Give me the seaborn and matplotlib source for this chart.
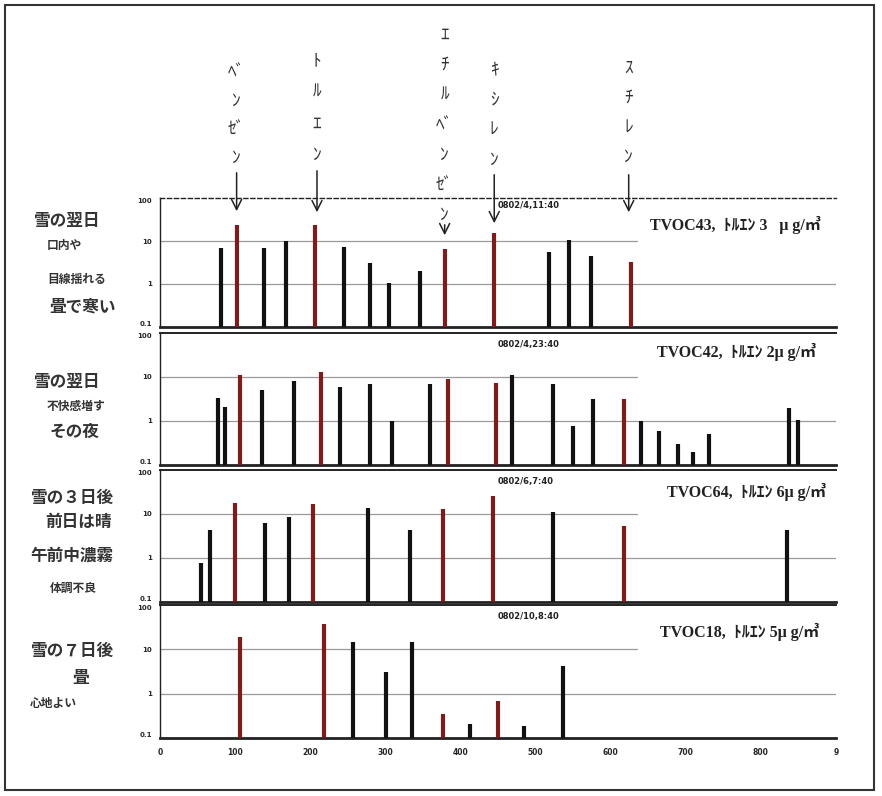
import numpy as np
import pandas as pd
import matplotlib
matplotlib.use("Agg")
import matplotlib.pyplot as plt
import matplotlib.transforms as mtransforms
from matplotlib.patches import Rectangle
import seaborn as sns

# ---------------- data ----------------
rt_black_1 = [81, 139, 168, 245, 279, 305, 346, 518, 545, 574]
conc_black_1 = [7, 7, 10, 7.4, 3.1, 1.07, 2.0, 5.5, 10.4, 4.5]
rt_red_1 = [103, 207, 380, 445, 627]
conc_red_1 = [23, 23, 6.4, 15, 3.3]

rt_black_2 = [77, 87, 136, 179, 240, 279, 309, 359, 469, 523, 550, 576, 640, 665, 689, 710, 731, 838, 849]
conc_black_2 = [3.4, 2.1, 5.0, 8.1, 5.9, 7, 1.0, 7, 11, 6.8, 0.77, 3.1, 1.0, 0.59, 0.30, 0.20, 0.50, 2.0, 1.04]
rt_red_2 = [107, 214, 383, 447, 618]
conc_red_2 = [11, 13, 8.9, 7.4, 3.1]

rt_black_3 = [55, 67, 140, 172, 277, 333, 523, 835]
conc_black_3 = [0.78, 4.3, 6.1, 8.7, 14, 4.3, 11, 4.3]
rt_red_3 = [100, 204, 377, 443, 618]
conc_red_3 = [18, 17, 13, 26, 5.4]

rt_black_4 = [257, 301, 335, 413, 484, 537]
conc_black_4 = [14.5, 3.1, 14.5, 0.21, 0.19, 4.2]
rt_red_4 = [107, 219, 377, 450]
conc_red_4 = [19, 38, 0.35, 0.67]

stamps = ["0802/4,11:40", "0802/4,23:40", "0802/6,7:40", "0802/10,8:40"]
tvoc_labels = ["TVOC43,  ﾄﾙｴﾝ 3   μ g/㎥", "TVOC42,  ﾄﾙｴﾝ 2μ g/㎥",
               "TVOC64,  ﾄﾙｴﾝ 6μ g/㎥", "TVOC18,  ﾄﾙｴﾝ 5μ g/㎥"]
side_labels = [
    [("雪の翌日", "big"), ("口内や", "small"), ("目線揺れる", "small"), ("畳で寒い", "big")],
    [("雪の翌日", "big"), ("不快感増す", "small"), ("その夜", "big")],
    [("雪の３日後", "big"), ("前日は晴", "big"), ("午前中濃霧", "big"), ("体調不良", "small")],
    [("雪の７日後", "big"), ("畳", "big"), ("心地よい", "small")],
]
compound_x = [102, 209, 379, 445, 624]
compound_chars = [["ﾍﾞ", "ﾝ", "ｾﾞ", "ﾝ"],
                  ["ﾄ", "ﾙ", "ｴ", "ﾝ"],
                  ["ｴ", "ﾁ", "ﾙ", "ﾍﾞ", "ﾝ", "ｾﾞ", "ﾝ"],
                  ["ｷ", "ｼ", "ﾚ", "ﾝ"],
                  ["ｽ", "ﾁ", "ﾚ", "ﾝ"]]
y_ticks = [0.1, 1, 10, 100]
y_ticklabels = ["0.1", "1", "10", "100"]
x_ticks = [0, 100, 200, 300, 400, 500, 600, 700, 800, 900]
x_ticklabels = ["0", "100", "200", "300", "400", "500", "600", "700", "800", "9"]

panels = [
    (rt_black_1, conc_black_1, rt_red_1, conc_red_1),
    (rt_black_2, conc_black_2, rt_red_2, conc_red_2),
    (rt_black_3, conc_black_3, rt_red_3, conc_red_3),
    (rt_black_4, conc_black_4, rt_red_4, conc_red_4),
]

# ---------------- style ----------------
sns.set_theme(style="white")
JP = ["Noto Sans CJK JP", "DejaVu Sans"]
SERIF = ["Liberation Serif", "Noto Sans CJK JP", "DejaVu Sans"]
plt.rcParams["font.family"] = JP

W, H = 882, 796
fig = plt.figure(figsize=(W / 100, H / 100), dpi=100)
fig.patch.set_facecolor("white")

def px_rect(l, t, r, b):
    return [l / W, 1 - b / H, (r - l) / W, (b - t) / H]

def fy(y):
    return 1 - y / H

boxes = [(160, 198, 836, 327), (160, 333, 836, 465), (160, 470, 836, 602), (160, 605, 836, 738)]
stamp_y = [0.945, 0.91, 0.91, 0.91]
tvoc_pos = [(650, 225), (657, 352), (667, 492), (660, 632)]
side_pos = [
    [(33, 221), (47, 245), (47, 279), (49, 306)],
    [(33, 382), (47, 406), (50, 432)],
    [(30, 498), (45, 522), (30, 556), (50, 588)],
    [(30, 651), (72, 678), (30, 703)],
]
palette = {"other": "#111111", "target": "#7e1c1c"}

axes = []
for i, (box, pdat) in enumerate(zip(boxes, panels)):
    ax = fig.add_axes(px_rect(*box))
    axes.append(ax)
    rb, cb, rr, cr = pdat
    df = pd.DataFrame({
        "rt": list(rb) + list(rr),
        "conc": list(cb) + list(cr),
        "kind": ["other"] * len(rb) + ["target"] * len(rr),
    })
    ax.set_yscale("log")
    ax.set_ylim(0.1, 100)
    ax.set_xlim(0, 900)
    ax.axhline(10, xmax=0.705, color="#9a9a9a", lw=0.9, zorder=0)
    ax.axhline(1, color="#9a9a9a", lw=0.9, zorder=0)
    ax.vlines(df["rt"], 0.1, df["conc"], colors=df["kind"].map(palette), lw=3.0, zorder=3)

    ax.set_yticks(y_ticks)
    ax.set_yticklabels(y_ticklabels, fontsize=5, fontweight="bold", family=["DejaVu Sans"])
    ax.minorticks_off()
    ax.tick_params(axis="y", length=0, pad=6)
    tl = ax.get_yticklabels()
    tl[0].set_verticalalignment("bottom")
    tl[-1].set_verticalalignment("top")
    if i == 3:
        ax.set_xticks(x_ticks)
        ax.set_xticklabels(x_ticklabels, fontsize=5.5, fontweight="bold", family=["DejaVu Sans"])
        ax.tick_params(axis="x", length=0, pad=7)
    else:
        ax.set_xticks([])
    ax.grid(False)
    for s in ["left", "bottom", "top", "right"]:
        ax.spines[s].set_color("#222222")
    ax.spines["right"].set_visible(False)
    ax.spines["left"].set_linewidth(1.0)
    ax.spines["bottom"].set_linewidth(2.0)
    if i == 0:
        ax.spines["top"].set_linestyle((0, (3, 2)))
        ax.spines["top"].set_linewidth(1.0)
    else:
        ax.spines["top"].set_linewidth(1.4)

    ax.text(0.50, stamp_y[i], stamps[i], transform=ax.transAxes, ha="left", va="center",
            fontsize=6, fontweight="bold", family=["DejaVu Sans"], color="#222222")
    tx, ty = tvoc_pos[i]
    fig.text(tx / W, fy(ty), tvoc_labels[i], ha="left", va="center", fontsize=11.5,
             fontweight="bold", family=SERIF, color="#222222")
    for (lab, size), (lx, ly) in zip(side_labels[i], side_pos[i]):
        fig.text(lx / W, fy(ly), lab, ha="left", va="center",
                 fontsize=12 if size == "big" else 8.5,
                 fontweight="bold", family=JP, color="#333333")

# ---------------- compound annotations on top panel ----------------
ax1 = axes[0]
trans = mtransforms.blended_transform_factory(ax1.transData, fig.transFigure)
char_top = [72, 60, 35, 70, 68]
char_step = [28.5, 31.7, 30, 30, 29.7]
arrow_from = [170, 168, 222, 172, 172]
arrow_to = [214, 215, 238, 226, 215]
for cx, chars, top, step, a0, a1 in zip(compound_x, compound_chars, char_top, char_step, arrow_from, arrow_to):
    for k, ch in enumerate(chars):
        ax1.text(cx, fy(top + k * step), ch, transform=trans, ha="center", va="center",
                 fontsize=12.5, family=JP, color="#333333", clip_on=False)
    ax1.annotate("", xy=(cx, fy(a1)), xytext=(cx, fy(a0)),
                 xycoords=trans, textcoords=trans,
                 arrowprops=dict(arrowstyle="->", lw=1.1, color="#222222", mutation_scale=18),
                 annotation_clip=False)

# outer frame
fig.patches.append(Rectangle((5 / W, 1 - 790 / H), 869 / W, 785 / H, transform=fig.transFigure,
                             fill=False, edgecolor="#333333", lw=1.5))

fig.savefig("out.png", dpi=100, facecolor="white")
